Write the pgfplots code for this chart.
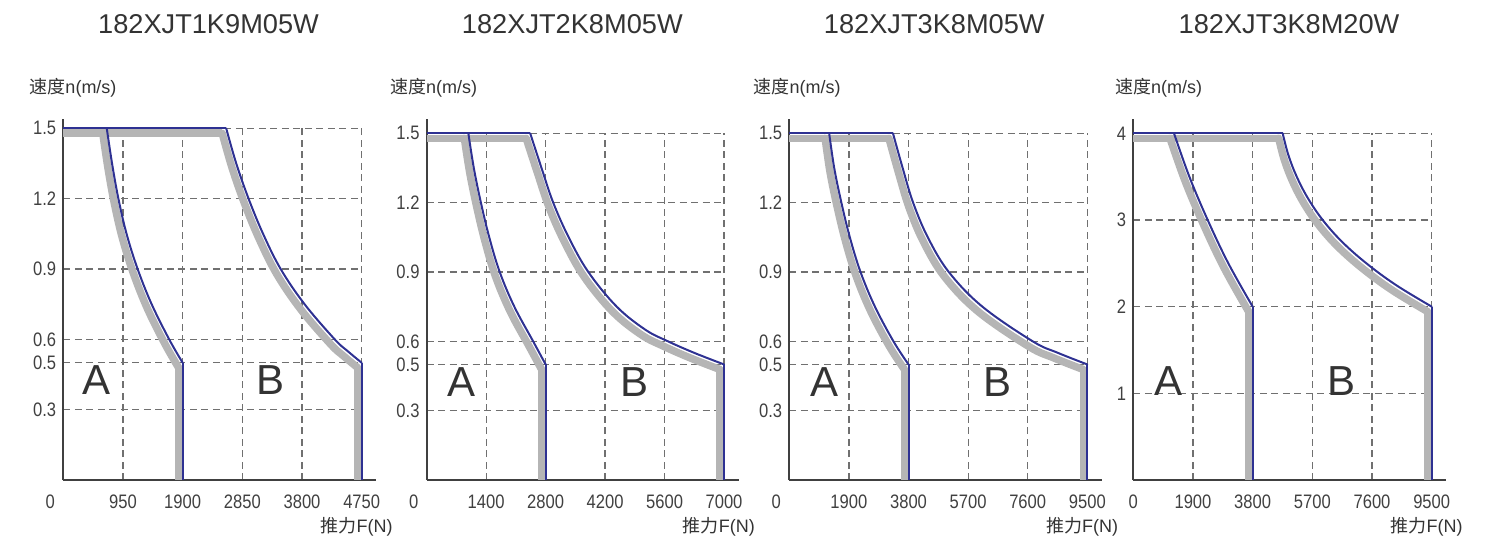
\documentclass[border=0pt]{standalone}
\usepackage{fontspec}
\setmainfont{Liberation Sans}
\newfontfamily\cjk{Noto Sans CJK SC}
\newfontfamily\tickfont[FakeStretch=0.85]{Liberation Sans}
\usepackage{pgfplots}
\pgfplotsset{compat=1.18}
\definecolor{curveblue}{HTML}{2E3192}
\definecolor{bandgray}{HTML}{B5B5B5}
\definecolor{gridgray}{HTML}{707070}
\definecolor{axisgray}{HTML}{404040}
\definecolor{txt}{HTML}{333333}
\tikzset{letter/.style={font=\fontsize{42}{44}\selectfont, text=txt}}
\pgfplotsset{
 panel/.style={
  scale only axis, axis lines=left,
  axis line style={-, line width=2pt, draw=axisgray},
  x axis line style={shorten >=-14.5pt},
  clip=false, xmin=0, ymin=0,
  major tick length=0pt, tick style={draw=none},
  grid=major,
  major grid style={draw=gridgray, line width=1.2pt, dash pattern=on 7pt off 4.5pt},
  tick label style={font=\tickfont\fontsize{19.5}{21}\selectfont, text=axisgray, inner sep=0pt},
  xticklabel style={anchor=north, yshift=-15pt},
  yticklabel style={anchor=east, xshift=-7pt},
  every axis x label/.style={at={(axis description cs:1,0)}, anchor=east, xshift=31pt, yshift=-47pt,
     font=\fontsize{18}{20}\selectfont, text=txt, inner sep=0pt},
  every axis y label/.style={at={(axis description cs:0,1)}, anchor=west,
     font=\fontsize{18}{20}\selectfont, text=txt, inner sep=0pt},
  xlabel={{\cjk 推力}F(N)}, ylabel={{\cjk 速度}n(m/s)},
  title style={at={(axis description cs:0.5,1)}, anchor=center, inner sep=0pt,
     font=\fontsize{27.2}{29}\selectfont, text=txt},
  extra x ticks={0}, extra x tick labels={0},
 },
 band/.style={draw=bandgray, line width=7.5pt},
 bandc/.style={draw=bandgray, line width=7.5pt, smooth, tension=0.6, line cap=round},
 edge/.style={draw=curveblue, line width=2pt},
 edgec/.style={draw=curveblue, line width=2pt, smooth, tension=0.6, line cap=round},
}
\begin{document}
\begin{tikzpicture}
\path[use as bounding box] (0,0) rectangle (1486pt,542pt);
% ---------------- Panel 1
\begin{axis}[panel, at={(63.3pt,62pt)}, anchor=south west, width=298.4pt, height=351.7pt,
  xmax=4750, ymax=1.5, y axis line style={shorten >=-9pt},
  xtick={950,1900,2850,3800,4750}, xticklabels={950,1900,2850,3800,4750},
  ytick={0.3,0.5,0.6,0.9,1.2,1.5}, yticklabels={0.3,0.5,0.6,0.9,1.2,1.5},
  extra x tick style={grid=none, xticklabel style={xshift=-13pt}},
  title={182XJT1K9M05W}, title style={xshift=-4pt, yshift=98.3pt},
  ylabel style={xshift=-34pt, yshift=40.8pt}]
\addplot[band] coordinates {(0,1.479)(628,1.479)};
\addplot[bandc] coordinates {(628,1.479)(712,1.329)(813,1.179)(943,1.029)(1119,0.879)(1342,0.729)(1621,0.579)(1836,0.479)};
\addplot[band] coordinates {(1836,0.479)(1836,0)};
\addplot[band] coordinates {(0,1.479)(2529,1.479)};
\addplot[bandc] coordinates {(2529,1.479)(2689,1.329)(2885,1.179)(3116,1.029)(3396,0.879)(3776,0.729)(4256,0.579)(4461,0.529)(4686,0.479)};
\addplot[band] coordinates {(4686,0.479)(4686,0)};
\addplot[edge] coordinates {(0,1.5)(692,1.5)};
\addplot[edgec] coordinates {(692,1.5)(776,1.35)(877,1.2)(1007,1.05)(1183,0.9)(1406,0.75)(1685,0.6)(1900,0.5)};
\addplot[edge] coordinates {(1900,0.5)(1900,0)};
\addplot[edge] coordinates {(0,1.5)(2593,1.5)};
\addplot[edgec] coordinates {(2593,1.5)(2753,1.35)(2949,1.2)(3180,1.05)(3460,0.9)(3840,0.75)(4320,0.6)(4525,0.55)(4750,0.5)};
\addplot[edge] coordinates {(4750,0.5)(4750,0)};
\node[letter] at (axis cs:532,0.426) {A};
\node[letter] at (axis cs:3295,0.426) {B};
\end{axis}
% ---------------- Panel 2
\begin{axis}[panel, at={(426.7pt,62pt)}, anchor=south west, width=297.3pt, height=346.7pt,
  xmax=7000, ymax=1.5, y axis line style={shorten >=-14pt},
  xtick={1400,2800,4200,5600,7000}, xticklabels={1400,2800,4200,5600,7000},
  ytick={0.3,0.5,0.6,0.9,1.2,1.5}, yticklabels={0.3,0.5,0.6,0.9,1.2,1.5},
  extra x tick style={grid=none, xticklabel style={xshift=-13pt}},
  title={182XJT2K8M05W}, title style={xshift=-3pt, yshift=103.3pt},
  ylabel style={xshift=-36.7pt, yshift=45.8pt}]
\addplot[band] coordinates {(0,1.478)(887,1.478)};
\addplot[bandc] coordinates {(887,1.478)(1015,1.328)(1182,1.178)(1379,1.028)(1625,0.878)(1969,0.728)(2412,0.578)(2706,0.478)};
\addplot[band] coordinates {(2706,0.478)(2706,0)};
\addplot[band] coordinates {(0,1.478)(2343,1.478)};
\addplot[bandc] coordinates {(2343,1.478)(2609,1.328)(2885,1.178)(3249,1.028)(3711,0.878)(4380,0.728)(5056,0.628)(5586,0.578)(6206,0.528)(6906,0.478)};
\addplot[band] coordinates {(6906,0.478)(6906,0)};
\addplot[edge] coordinates {(0,1.5)(981,1.5)};
\addplot[edgec] coordinates {(981,1.5)(1109,1.35)(1276,1.2)(1473,1.05)(1719,0.9)(2063,0.75)(2506,0.6)(2800,0.5)};
\addplot[edge] coordinates {(2800,0.5)(2800,0)};
\addplot[edge] coordinates {(0,1.5)(2437,1.5)};
\addplot[edgec] coordinates {(2437,1.5)(2703,1.35)(2979,1.2)(3343,1.05)(3805,0.9)(4474,0.75)(5150,0.65)(5680,0.6)(6300,0.55)(7000,0.5)};
\addplot[edge] coordinates {(7000,0.5)(7000,0)};
\node[letter] at (axis cs:824,0.425) {A};
\node[letter] at (axis cs:4897,0.425) {B};
\end{axis}
% ---------------- Panel 3
\begin{axis}[panel, at={(789.3pt,62pt)}, anchor=south west, width=298pt, height=346.7pt,
  xmax=9500, ymax=1.5, y axis line style={shorten >=-14pt},
  xtick={1900,3800,5700,7600,9500}, xticklabels={1900,3800,5700,7600,9500},
  ytick={0.3,0.5,0.6,0.9,1.2,1.5}, yticklabels={0.3,0.5,0.6,0.9,1.2,1.5},
  extra x tick style={grid=none, xticklabel style={xshift=-13pt}},
  title={182XJT3K8M05W}, title style={xshift=-4pt, yshift=103.3pt},
  ylabel style={xshift=-36pt, yshift=45.8pt}]
\addplot[band] coordinates {(0,1.478)(1143,1.478)};
\addplot[bandc] coordinates {(1143,1.478)(1304,1.328)(1532,1.178)(1802,1.028)(2142,0.878)(2602,0.728)(3192,0.578)(3672,0.478)};
\addplot[band] coordinates {(3672,0.478)(3672,0)};
\addplot[band] coordinates {(0,1.478)(3177,1.478)};
\addplot[bandc] coordinates {(3177,1.478)(3485,1.328)(3819,1.178)(4287,1.028)(4956,0.878)(6027,0.728)(7632,0.578)(8435,0.528)(9372,0.478)};
\addplot[band] coordinates {(9372,0.478)(9372,0)};
\addplot[edge] coordinates {(0,1.5)(1271,1.5)};
\addplot[edgec] coordinates {(1271,1.5)(1432,1.35)(1660,1.2)(1930,1.05)(2270,0.9)(2730,0.75)(3320,0.6)(3800,0.5)};
\addplot[edge] coordinates {(3800,0.5)(3800,0)};
\addplot[edge] coordinates {(0,1.5)(3305,1.5)};
\addplot[edgec] coordinates {(3305,1.5)(3613,1.35)(3947,1.2)(4415,1.05)(5084,0.9)(6155,0.75)(7760,0.6)(8563,0.55)(9500,0.5)};
\addplot[edge] coordinates {(9500,0.5)(9500,0)};
\node[letter] at (axis cs:1138,0.425) {A};
\node[letter] at (axis cs:6644,0.425) {B};
\end{axis}
% ---------------- Panel 4
\begin{axis}[panel, at={(1133.3pt,62pt)}, anchor=south west, width=298.4pt, height=346.7pt,
  xmax=9500, ymax=4, y axis line style={shorten >=-14pt},
  xtick={1900,3800,5700,7600,9500}, xticklabels={1900,3800,5700,7600,9500},
  ytick={1,2,3,4}, yticklabels={1,2,3,4},
  extra x tick style={grid=none},
  title={182XJT3K8M20W}, title style={xshift=6.5pt, yshift=103.3pt},
  ylabel style={xshift=-18.3pt, yshift=45.8pt}]
\addplot[band] coordinates {(0,3.942)(1169,3.942)};
\addplot[bandc] coordinates {(1169,3.942)(1657,3.442)(2241,2.942)(2898,2.442)(3673,1.942)};
\addplot[band] coordinates {(3673,1.942)(3673,0)};
\addplot[band] coordinates {(0,3.942)(4629,3.942)};
\addplot[bandc] coordinates {(4629,3.942)(4809,3.692)(5075,3.442)(5433,3.192)(5902,2.942)(6513,2.692)(7293,2.442)(8233,2.192)(9373,1.942)};
\addplot[band] coordinates {(9373,1.942)(9373,0)};
\addplot[edge] coordinates {(0,4)(1296,4)};
\addplot[edgec] coordinates {(1296,4)(1784,3.5)(2368,3)(3025,2.5)(3800,2)};
\addplot[edge] coordinates {(3800,2)(3800,0)};
\addplot[edge] coordinates {(0,4)(4756,4)};
\addplot[edgec] coordinates {(4756,4)(4936,3.75)(5202,3.5)(5560,3.25)(6029,3)(6640,2.75)(7420,2.5)(8360,2.25)(9500,2)};
\addplot[edge] coordinates {(9500,2)(9500,0)};
\node[letter] at (axis cs:1130,1.145) {A};
\node[letter] at (axis cs:6634,1.145) {B};
\end{axis}
\end{tikzpicture}
\end{document}
